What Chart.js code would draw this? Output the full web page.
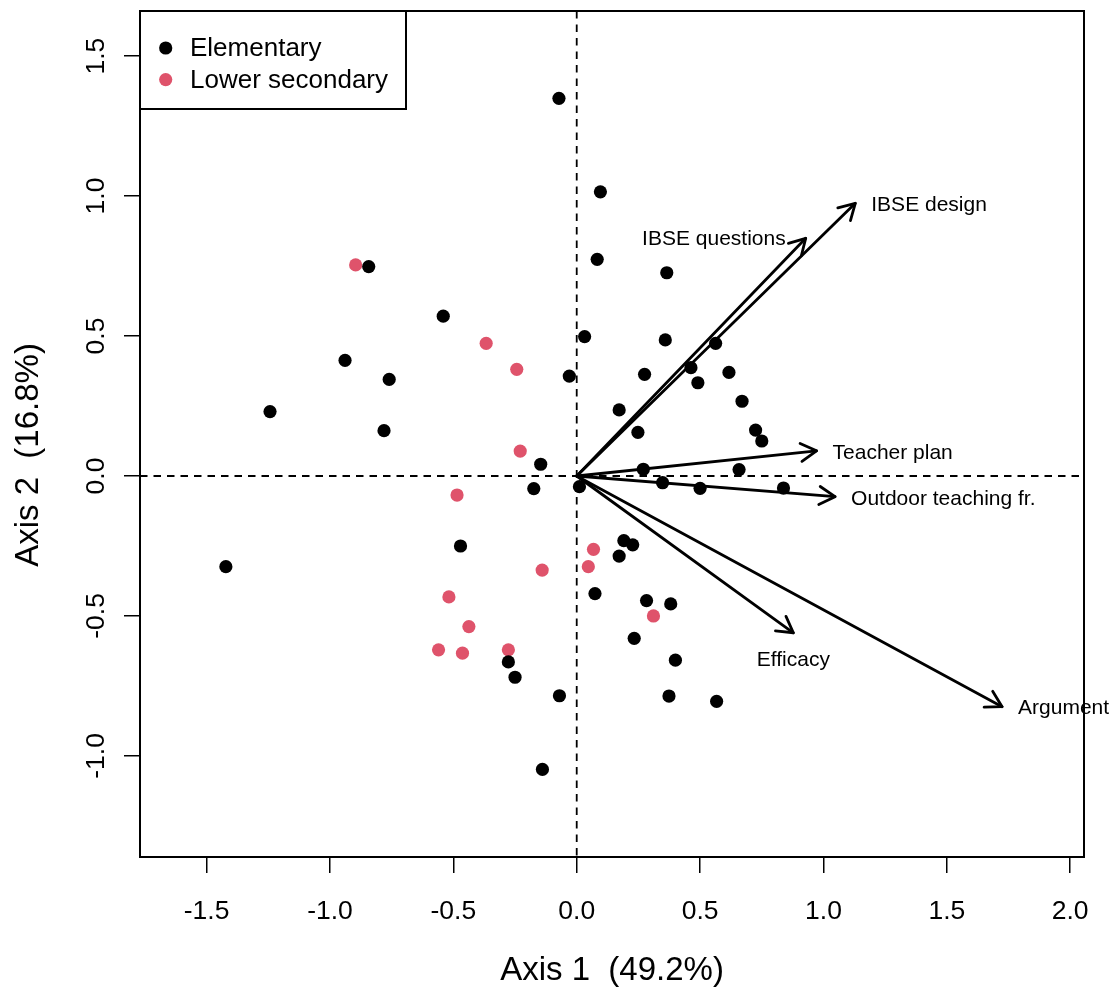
<!DOCTYPE html>
<html><head><meta charset="utf-8">
<script src="https://cdn.jsdelivr.net/npm/chart.js@4.4.1/dist/chart.umd.min.js"></script>
<style>html,body{margin:0;padding:0;background:#fff;} #wrap{width:1117px;height:989px;}</style>
</head><body><div id="wrap"><canvas id="c" width="1117" height="989"></canvas></div>
<script>
// ---- data ----
const groupNames = ['Elementary', 'Lower secondary'];
const elemX = [-0.072, 0.096, 0.083, 0.365, -0.843, -0.541, 0.032, 0.359, 0.563, -0.939, -0.760, -0.030, 0.275, 0.463, 0.491, 0.617, 0.670, -1.243, 0.172, -0.781, 0.248, 0.725, 0.750, -0.146, 0.270, 0.658, -0.174, 0.011, 0.348, 0.500, 0.838, 0.191, 0.227, 0.172, -0.471, -1.422, 0.074, 0.283, 0.381, 0.233, 0.400, 0.374, 0.567, -0.070, -0.277, -0.250, -0.139];
const elemY = [1.349, 1.015, 0.774, 0.726, 0.748, 0.571, 0.498, 0.486, 0.474, 0.413, 0.345, 0.357, 0.363, 0.387, 0.333, 0.370, 0.267, 0.230, 0.236, 0.162, 0.156, 0.164, 0.125, 0.042, 0.024, 0.023, -0.045, -0.038, -0.024, -0.044, -0.043, -0.231, -0.246, -0.286, -0.250, -0.324, -0.420, -0.445, -0.457, -0.580, -0.658, -0.786, -0.805, -0.785, -0.664, -0.719, -1.048];
const lowerX = [-0.896, -0.367, -0.243, -0.229, -0.485, -0.140, 0.068, 0.047, 0.311, -0.518, -0.437, -0.560, -0.463, -0.277];
const lowerY = [0.754, 0.474, 0.381, 0.089, -0.068, -0.336, -0.262, -0.324, -0.500, -0.432, -0.538, -0.621, -0.633, -0.621];
const arrowNames = ['IBSE design', 'IBSE questions', 'Teacher plan', 'Outdoor teaching fr.', 'Efficacy', 'Argument'];
const arrowX = [1.129, 0.928, 0.972, 1.047, 0.878, 1.724];
const arrowY = [0.974, 0.849, 0.090, -0.074, -0.560, -0.824];
const xTickValues = [-1.5, -1.0, -0.5, 0.0, 0.5, 1.0, 1.5, 2.0];
const yTickValues = [-1.0, -0.5, 0.0, 0.5, 1.0, 1.5];
const xTitle = 'Axis 1  (49.2%)';
const yTitle = 'Axis 2  (16.8%)';

// ---- style ----
const FONT = '"Liberation Sans", Arial, Helvetica, sans-serif';
const COLORS = ['#000000', '#DF536B'];
const labelPos = ['right', 'left', 'right', 'right', 'below', 'right'];

const pts = (xs, ys) => xs.map((v, i) => ({x: v, y: ys[i]}));

const datasets = [
  {label: groupNames[0], data: pts(elemX, elemY), backgroundColor: COLORS[0], borderWidth: 0, pointRadius: 6.6, pointHoverRadius: 6.6, order: 0},
  {label: groupNames[1], data: pts(lowerX, lowerY), backgroundColor: COLORS[1], borderWidth: 0, pointRadius: 6.6, pointHoverRadius: 6.6, order: 0}
];
arrowNames.forEach((n, i) => {
  datasets.push({label: n, isArrow: true, arrowIndex: i, data: [{x: 0, y: 0}, {x: arrowX[i], y: arrowY[i]}],
    showLine: true, borderColor: '#000', borderWidth: 2.8, pointRadius: 0, pointHoverRadius: 0,
    borderCapStyle: 'round', order: 1});
});

const decor = {
  id: 'decor',
  beforeDatasetsDraw(chart) {
    const {ctx, chartArea: a, scales: {x, y}} = chart;
    const x0 = x.getPixelForValue(0), y0 = y.getPixelForValue(0);
    ctx.save();
    ctx.strokeStyle = '#000'; ctx.lineWidth = 1.8; ctx.setLineDash([7.5, 6]);
    ctx.beginPath();
    ctx.moveTo(a.left, y0); ctx.lineTo(a.right, y0);
    ctx.moveTo(x0, a.top); ctx.lineTo(x0, a.bottom);
    ctx.stroke();
    ctx.restore();
  },
  afterDatasetDraw(chart, args) {
    const ds = chart.data.datasets[args.index];
    if (!ds.isArrow) return;
    const {ctx} = chart;
    const p0 = args.meta.data[0], p1 = args.meta.data[1];
    const ang = Math.atan2(p1.y - p0.y, p1.x - p0.x);
    const L = 18, h = Math.PI / 6;
    ctx.save();
    ctx.strokeStyle = '#000'; ctx.lineWidth = 2.8; ctx.lineCap = 'round'; ctx.lineJoin = 'round';
    ctx.beginPath();
    ctx.moveTo(p1.x - L * Math.cos(ang - h), p1.y - L * Math.sin(ang - h));
    ctx.lineTo(p1.x, p1.y);
    ctx.lineTo(p1.x - L * Math.cos(ang + h), p1.y - L * Math.sin(ang + h));
    ctx.stroke();
    ctx.restore();
  },
  afterDatasetsDraw(chart) {
    const {ctx, chartArea: a} = chart;
    ctx.save();
    // arrow labels
    ctx.fillStyle = '#000';
    ctx.font = '21px ' + FONT;
    ctx.textBaseline = 'middle';
    chart.data.datasets.forEach((ds, di) => {
      if (!ds.isArrow) return;
      const p = chart.getDatasetMeta(di).data[1];
      const pos = labelPos[ds.arrowIndex];
      if (pos === 'right') { ctx.textAlign = 'left'; ctx.fillText(ds.label, p.x + 16, p.y + 2); }
      else if (pos === 'left') { ctx.textAlign = 'right'; ctx.fillText(ds.label, p.x - 20, p.y + 1); }
      else { ctx.textAlign = 'center'; ctx.fillText(ds.label, p.x, p.y + 27); }
    });
    // legend
    const lw = 266, lh = 98;
    ctx.fillStyle = '#fff';
    ctx.fillRect(a.left, a.top, lw, lh);
    ctx.strokeStyle = '#000'; ctx.lineWidth = 2;
    ctx.strokeRect(a.left, a.top, lw, lh);
    ctx.font = '26px ' + FONT;
    ctx.textAlign = 'left'; ctx.textBaseline = 'middle';
    [0, 1].forEach(k => {
      const yy = a.top + 37 + k * 31.6;
      ctx.fillStyle = chart.data.datasets[k].backgroundColor;
      ctx.beginPath(); ctx.arc(a.left + 25.7, yy, 6.6, 0, Math.PI * 2); ctx.fill();
      ctx.fillStyle = '#000';
      ctx.fillText(chart.data.datasets[k].label, a.left + 50, yy + 1);
    });
    ctx.restore();
  },
  afterDraw(chart) {
    const {ctx, chartArea: a, scales: {y}} = chart;
    ctx.save();
    ctx.strokeStyle = '#000'; ctx.lineWidth = 2;
    ctx.strokeRect(a.left, a.top, a.right - a.left, a.bottom - a.top);
    // y tick labels (vertical, as in R)
    ctx.fillStyle = '#000';
    ctx.font = '26.5px ' + FONT;
    ctx.textAlign = 'center'; ctx.textBaseline = 'middle';
    y.ticks.forEach(t => {
      const py = y.getPixelForValue(t.value);
      ctx.save(); ctx.translate(a.left - 43, py); ctx.rotate(-Math.PI / 2);
      ctx.fillText(t.value.toFixed(1), 0, 0); ctx.restore();
    });
    // titles
    ctx.font = '33px ' + FONT;
    ctx.fillText(xTitle, (a.left + a.right) / 2, 971);
    ctx.save(); ctx.translate(29, 455); ctx.rotate(-Math.PI / 2);
    ctx.fillText(yTitle, 0, 0); ctx.restore();
    ctx.restore();
  }
};

new Chart(document.getElementById('c'), {
  type: 'scatter',
  data: {datasets},
  options: {
    responsive: false,
    animation: false,
    devicePixelRatio: 1,
    layout: {padding: {top: 11, right: 33, left: 0, bottom: 0}},
    plugins: {legend: {display: false}, tooltip: {enabled: false}},
    events: [],
    scales: {
      x: {
        type: 'linear', position: 'bottom', min: -1.770, max: 2.056,
        afterBuildTicks: s => { s.ticks = xTickValues.map(v => ({value: v})); },
        afterFit: s => { s.height = 132; },
        grid: {drawOnChartArea: false, drawTicks: true, tickLength: 16, color: '#000', lineWidth: 1.5},
        border: {display: false},
        ticks: {autoSkip: false, maxRotation: 0, padding: 23, color: '#000',
          font: {family: FONT, size: 26.5, lineHeight: 1.2},
          callback: v => Number(v).toFixed(1)}
      },
      y: {
        type: 'linear', position: 'left', min: -1.361, max: 1.661,
        afterBuildTicks: s => { s.ticks = yTickValues.map(v => ({value: v})); },
        afterFit: s => { s.width = 140; },
        grid: {drawOnChartArea: false, drawTicks: true, tickLength: 16, color: '#000', lineWidth: 1.5},
        border: {display: false},
        ticks: {display: false}
      }
    }
  },
  plugins: [decor]
});
</script>
</body></html>
